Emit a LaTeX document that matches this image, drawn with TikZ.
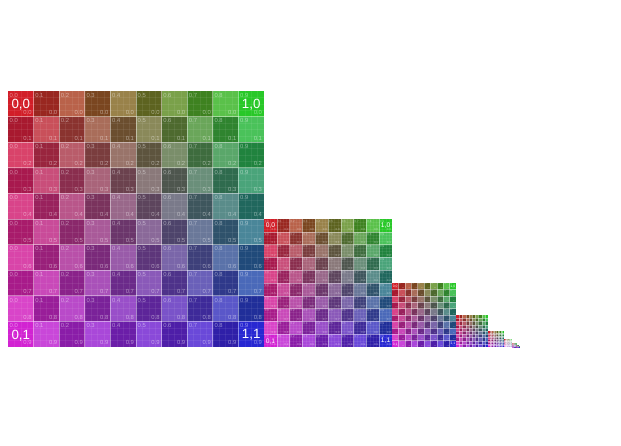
\documentclass[tikz,border=0pt]{standalone}
\usepackage{fontspec}
\setmainfont{Liberation Sans}
\tikzset{
  cellline/.style={white, opacity=0.42},
  fineline/.style={white, opacity=0.07},
  smalllab/.style={inner sep=0pt, text=white, text opacity=0.48},
  biglab/.style={inner sep=0pt, text=white},
}
\newcommand\miplevel[5]{%
\begin{scope}[shift={(#1,#2)}]
 \pgfmathsetmacro\cs{#3/10}
 \foreach \i in {0,...,9}{
  \foreach \j in {0,...,9}{
   \pgfmathsetmacro\u{\i/9}
   \pgfmathsetmacro\v{\j/9}
   \pgfmathtruncatemacro\R{round((1-\u)*(1-\v)*210+\u*(1-\v)*40+(1-\u)*\v*210+\u*\v*40)}
   \pgfmathtruncatemacro\G{round((1-\u)*(1-\v)*30+\u*(1-\v)*200+(1-\u)*\v*35+\u*\v*40)}
   \pgfmathtruncatemacro\B{round((1-\u)*(1-\v)*40+\u*(1-\v)*40+(1-\u)*\v*210+\u*\v*210)}
   \definecolor{basec}{RGB}{\R,\G,\B}
   \pgfmathtruncatemacro\cor{((\i==0)+(\i==9))*((\j==0)+(\j==9))}
   \pgfmathtruncatemacro\pp{mod(\i+\j,2)}
   \ifnum\cor>0 \colorlet{cellc}{basec}\else
     \ifnum\pp=0 \colorlet{cellc}{basec!84!white}\else\colorlet{cellc}{basec!80!black}\fi
   \fi
   \fill[cellc] (\i*\cs,\j*\cs) rectangle ++(\cs,\cs);
  }
 }
 \ifdim #3pt>100pt
  \pgfmathsetmacro\fw{#3/900}
  \foreach \k in {1,...,39}{
   \draw[fineline, line width=\fw pt] (\k*\cs/4,0) -- (\k*\cs/4,#3);
   \draw[fineline, line width=\fw pt] (0,\k*\cs/4) -- (#3,\k*\cs/4);
  }
 \fi
 \pgfmathsetmacro\lw{#3/290}
 \foreach \k in {1,...,9}{
  \draw[cellline, line width=\lw pt] (\k*\cs,0) -- (\k*\cs,#3);
  \draw[cellline, line width=\lw pt] (0,\k*\cs) -- (#3,\k*\cs);
 }
 \ifnum#5=1
  \pgfmathsetmacro\fs{0.23*\cs}
  \pgfmathsetmacro\fb{0.52*\cs}
  \foreach \i in {0,...,9}{
   \foreach \j in {0,...,9}{
    \node[smalllab, anchor=north west, font=\fontsize{\fs}{\fs}\selectfont] (tl-#4-\i-\j) at (\i*\cs+0.06*\cs, \j*\cs+0.08*\cs) {0.\i};
    \node[smalllab, anchor=south east, font=\fontsize{\fs}{\fs}\selectfont] (br-#4-\i-\j) at (\i*\cs+0.93*\cs, \j*\cs+0.93*\cs) {0.\j};
   }
  }
  \node[biglab, font=\fontsize{\fb}{\fb}\selectfont] (ca-#4) at (0.5*\cs,0.54*\cs) {0,0};
  \node[biglab, font=\fontsize{\fb}{\fb}\selectfont] (cb-#4) at (9.5*\cs,0.54*\cs) {1,0};
  \node[biglab, font=\fontsize{\fb}{\fb}\selectfont] (cc-#4) at (0.5*\cs,9.54*\cs) {0,1};
  \node[biglab, font=\fontsize{\fb}{\fb}\selectfont] (cd-#4) at (9.5*\cs,9.54*\cs) {1,1};
 \fi
\end{scope}}
\begin{document}
\begin{tikzpicture}[x=1pt,y=-1pt]
\fill[white] (0,0) rectangle (621,446);
\useasboundingbox (0,0) rectangle (621,446);
\miplevel{8}{91}{256}{a}{1}
\miplevel{264}{219}{128}{b}{1}
\miplevel{392}{283}{64}{c}{1}
\miplevel{456}{315}{32}{d}{0}
\miplevel{488}{331}{16}{e}{0}
\miplevel{504}{339}{8}{f}{0}
\miplevel{512}{343}{4}{g}{0}
\miplevel{516}{345}{2}{h}{0}
\miplevel{518}{346}{1}{k}{0}
\end{tikzpicture}
\end{document}
